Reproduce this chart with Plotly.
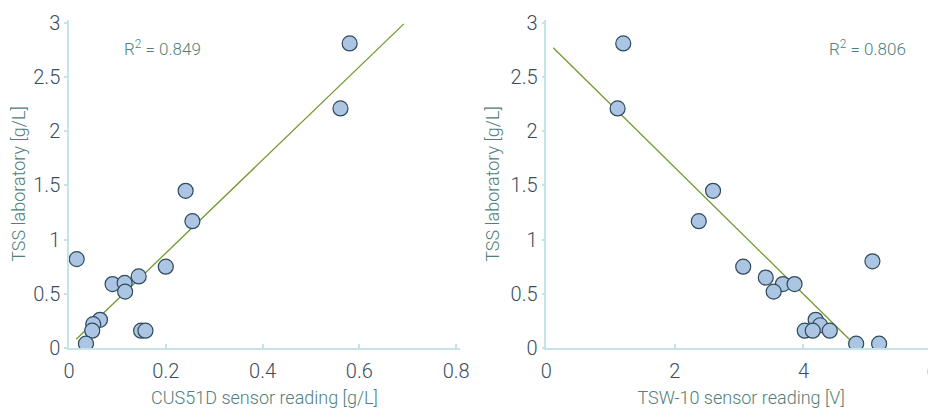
import plotly.graph_objects as go

# Left panel: CUS51D sensor
cus_x = [0.580, 0.561, 0.241, 0.255, 0.016, 0.200, 0.144, 0.090, 0.115, 0.116,
         0.064, 0.050, 0.048, 0.035, 0.149, 0.158]
cus_y = [2.81, 2.21, 1.45, 1.17, 0.82, 0.75, 0.66, 0.59, 0.60, 0.52,
         0.26, 0.22, 0.16, 0.04, 0.16, 0.16]
cus_fit_x = [0.015, 0.692]
cus_fit_y = [0.08, 2.99]
cus_r2 = "R<sup>2</sup> = 0.849"

# Right panel: TSW-10 sensor
tsw_x = [1.197, 1.109, 2.594, 2.372, 3.063, 3.414, 3.68, 3.537, 3.862, 5.073,
         4.19, 4.26, 4.02, 4.145, 4.41, 4.82, 5.177]
tsw_y = [2.81, 2.21, 1.45, 1.17, 0.75, 0.65, 0.59, 0.52, 0.59, 0.80,
         0.26, 0.21, 0.16, 0.16, 0.16, 0.04, 0.04]
tsw_fit_x = [0.108, 4.764]
tsw_fit_y = [2.77, 0.05]
tsw_r2 = "R<sup>2</sup> = 0.806"

y_ticks = [0, 0.5, 1, 1.5, 2, 2.5, 3]
y_ticktext = ["0", "0.5", "1", "1.5", "2", "2.5", "3"]
cus_ticks = [0, 0.2, 0.4, 0.6, 0.8]
cus_ticktext = ["0", "0.2", "0.4", "0.6", "0.8"]
tsw_ticks = [0, 2, 4, 6]
tsw_ticktext = ["0", "2", "4", "6"]

AXIS_COL = "#c6e3e6"
TICK_FONT = dict(family="Roboto", size=20, color="#3b4d5c", weight=300)
TITLE_FONT = dict(family="Roboto", size=18, color="#4f8079", weight=300)
R2_FONT = dict(family="Roboto", size=17, color="#4f8079", weight=300)
LINE_COL = "#6f9a2f"
MARKER = dict(size=15, color="#abc5e3", line=dict(color="#2f4a5c", width=1.2))

fig = go.Figure()

fig.add_trace(go.Scatter(x=cus_fit_x, y=cus_fit_y, mode="lines",
                         line=dict(color=LINE_COL, width=1.3), xaxis="x", yaxis="y",
                         showlegend=False, hoverinfo="skip"))
fig.add_trace(go.Scatter(x=cus_x, y=cus_y, mode="markers", marker=MARKER,
                         xaxis="x", yaxis="y", showlegend=False))
fig.add_trace(go.Scatter(x=tsw_fit_x, y=tsw_fit_y, mode="lines",
                         line=dict(color=LINE_COL, width=1.3), xaxis="x2", yaxis="y2",
                         showlegend=False, hoverinfo="skip"))
fig.add_trace(go.Scatter(x=tsw_x, y=tsw_y, mode="markers", marker=MARKER,
                         xaxis="x2", yaxis="y2", showlegend=False))

# page has an 8px body margin, so the figure is drawn from (8, 8)
OFF = 8
W, H = 936 - OFF, 408 - OFF


def fx(px):
    return (px - OFF) / W


def fy(py):
    return (H - (py - OFF)) / H


common_x = dict(showgrid=False, zeroline=False, showline=True, linecolor=AXIS_COL,
                linewidth=1.5, ticks="inside", ticklen=4, tickcolor=AXIS_COL,
                tickwidth=1.5, tickfont=TICK_FONT, automargin=False,
                ticklabelstandoff=4, ticklabeloverflow="allow")
common_y = dict(showgrid=False, zeroline=False, showline=True, linecolor=AXIS_COL,
                linewidth=1.5, ticks="outside", ticklen=3, tickcolor=AXIS_COL,
                tickwidth=1.5, tickfont=TICK_FONT, automargin=False,
                tickvals=y_ticks, ticktext=y_ticktext, range=[0, 3.026])

fig.update_layout(
    width=W, height=H,
    margin=dict(l=0, r=0, t=0, b=0),
    paper_bgcolor="white", plot_bgcolor="white",
    template="none",
    xaxis=dict(**common_x, domain=[fx(69), fx(460)], range=[0, 0.808],
               tickvals=cus_ticks, ticktext=cus_ticktext,
               title=dict(text="CUS51D sensor reading [g/L]", font=TITLE_FONT, standoff=12),
               anchor="y"),
    yaxis=dict(**common_y, domain=[fy(348), fy(20)], anchor="x",
               title=dict(text="TSS laboratory [g/L]", font=TITLE_FONT, standoff=6)),
    xaxis2=dict(**common_x, domain=[fx(546.3), 1.0], range=[0, 6.062],
                tickvals=tsw_ticks, ticktext=tsw_ticktext,
                title=dict(text="TSW-10 sensor reading [V]", font=TITLE_FONT, standoff=12),
                anchor="y2"),
    yaxis2=dict(**common_y, domain=[fy(348), fy(20)], anchor="x2",
                title=dict(text="TSS laboratory [g/L]", font=TITLE_FONT, standoff=6)),
    annotations=[
        dict(text=cus_r2, x=0.11, y=2.77, xref="x", yref="y", showarrow=False,
             xanchor="left", yanchor="middle", font=R2_FONT),
        dict(text=tsw_r2, x=5.62, y=2.77, xref="x2", yref="y2", showarrow=False,
             xanchor="right", yanchor="middle", font=R2_FONT),
    ],
)

fig.write_html("out.html")
